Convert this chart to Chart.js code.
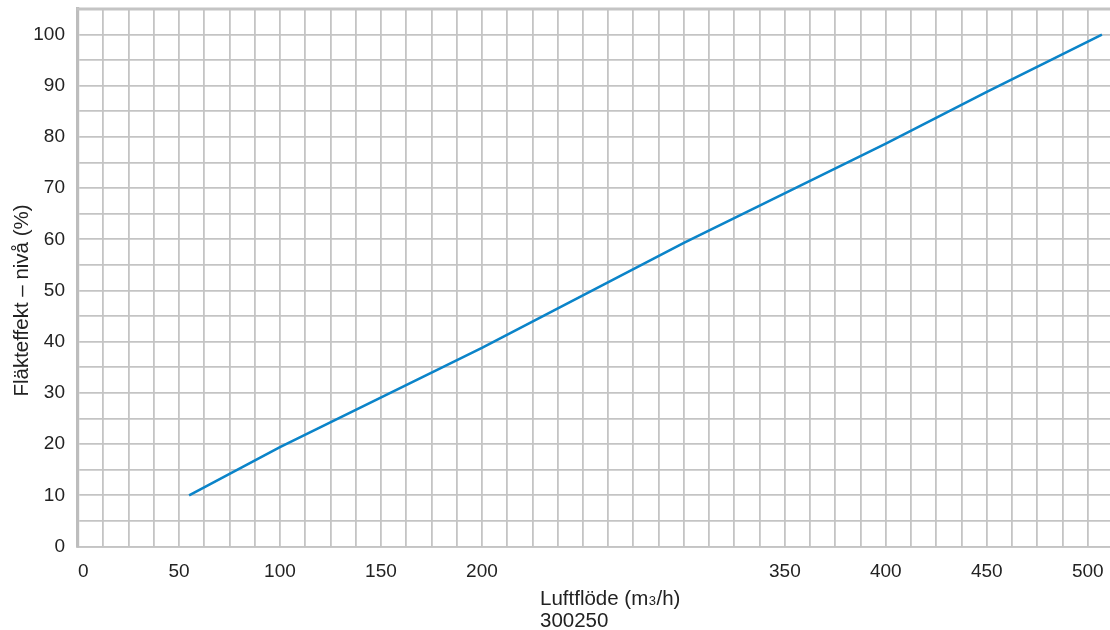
<!DOCTYPE html>
<html><head><meta charset="utf-8">
<script src="https://cdn.jsdelivr.net/npm/chart.js@4.4.1/dist/chart.umd.min.js"></script>
<style>html,body{margin:0;padding:0;background:#fff;overflow:hidden}canvas{display:block}</style>
</head><body>
<canvas id="c" width="1110" height="630"></canvas>
<script>
// ---- data ----
const airflow  = [55, 100, 200, 300, 400, 450, 507];
const fanLevel = [10, 19.4, 38.8, 59.3, 78.7, 88.8, 100];
const xTickLabels = [0, 50, 100, 150, 200, 350, 400, 450, 500];
const yTickLabels = [0, 10, 20, 30, 40, 50, 60, 70, 80, 90, 100];
const xGridStep = 12.5;
const yGridStep = 5;
const xMin = 0, xMax = 511;
const yMin = 0, yMax = 105;
const xTitleMain = 'Luftflöde (m';
const xTitleSub = '3';
const xTitleEnd = '/h)';
const xTitleLine2 = '300250';
const yTitle = 'Fläkteffekt – nivå (%)';

// ---- styles ----
const FONT = '"Liberation Sans", Arial, Helvetica, sans-serif';
const TEXT = '#222222';
const GRID = '#c4c4c4';
const LINE = '#0b84c9';

const points = airflow.map((x, i) => ({ x: x, y: fanLevel[i] }));

const framePlugin = {
  id: 'frame',
  beforeDatasetsDraw(chart) {
    const ctx = chart.ctx, a = chart.chartArea;
    ctx.save();
    ctx.strokeStyle = GRID;
    ctx.lineWidth = 3;
    ctx.beginPath();
    ctx.moveTo(a.left - 1.5, a.top);
    ctx.lineTo(chart.width, a.top);
    ctx.stroke();
    ctx.restore();
  },
  afterDraw(chart) {
    const ctx = chart.ctx;
    ctx.save();
    ctx.fillStyle = TEXT;
    ctx.textBaseline = 'alphabetic';
    ctx.textAlign = 'left';
    ctx.font = '20.5px ' + FONT;
    let x = 540, base = 604.5;
    ctx.fillText(xTitleMain, x, base);
    x += ctx.measureText(xTitleMain).width;
    ctx.font = '13px ' + FONT;
    ctx.fillText(xTitleSub, x + 0.5, base);
    x += ctx.measureText(xTitleSub).width + 1;
    ctx.font = '20.5px ' + FONT;
    ctx.fillText(xTitleEnd, x, base);
    ctx.fillText(xTitleLine2, 540, 626.5);
    ctx.translate(22, 300.5);
    ctx.rotate(-Math.PI / 2);
    ctx.textAlign = 'center';
    ctx.textBaseline = 'middle';
    ctx.fillText(yTitle, 0, 0);
    ctx.restore();
  }
};

new Chart(document.getElementById('c'), {
  type: 'line',
  data: {
    datasets: [{
      data: points,
      borderColor: LINE,
      borderWidth: 2.6,
      pointRadius: 0,
      tension: 0,
      fill: false
    }]
  },
  options: {
    responsive: false,
    animation: false,
    events: [],
    layout: { padding: { top: 9, left: 0, right: 0, bottom: 0 } },
    plugins: { legend: { display: false }, tooltip: { enabled: false } },
    scales: {
      x: {
        type: 'linear',
        min: xMin, max: xMax,
        afterBuildTicks(s) {
          const t = [];
          for (let v = xMin; v <= xMax; v += xGridStep) t.push({ value: v });
          t.push({ value: xMax });
          s.ticks = t;
        },
        ticks: {
          autoSkip: false, maxRotation: 0, minRotation: 0,
          align: 'inner',
          padding: 14,
          color: TEXT,
          font: { family: FONT, size: 19 },
          callback: v => xTickLabels.includes(v) ? String(v) : ''
        },
        grid: {
          color: c => (c.tick && c.tick.value === xMax) ? 'rgba(0,0,0,0)' : GRID,
          lineWidth: 1.8, drawTicks: false
        },
        border: { display: true, color: GRID, width: 1.8 },
        afterFit(s) { s.height = 630 - 546.5; s.paddingLeft = 0; s.paddingRight = 0; }
      },
      y: {
        min: yMin, max: yMax,
        afterBuildTicks(s) {
          const t = [];
          for (let v = yMin; v <= yMax; v += yGridStep) t.push({ value: v });
          s.ticks = t;
        },
        ticks: {
          autoSkip: false,
          padding: 13,
          color: TEXT,
          font: { family: FONT, size: 19 },
          callback: v => yTickLabels.includes(v) ? String(v) : ''
        },
        grid: { color: GRID, lineWidth: 1.8, drawTicks: false },
        border: { display: true, color: '#bdbdbd', width: 3.2 },
        afterFit(s) { s.width = 78; s.paddingTop = 0; s.paddingBottom = 0; }
      }
    }
  },
  plugins: [framePlugin]
});
</script>
</body></html>
